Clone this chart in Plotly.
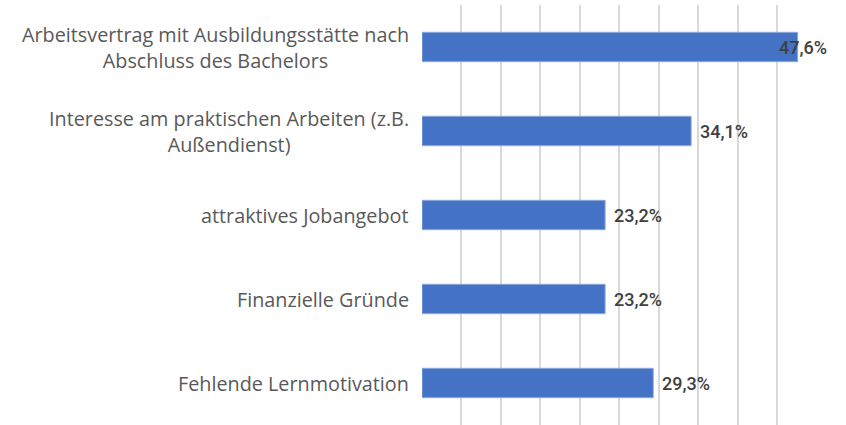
import plotly.graph_objects as go

categories = [
    "Arbeitsvertrag mit Ausbildungsstätte nach<br>Abschluss des Bachelors",
    "Interesse am praktischen Arbeiten (z.B.<br>Außendienst)",
    "attraktives Jobangebot",
    "Finanzielle Gründe",
    "Fehlende Lernmotivation",
]
values = [47.6, 34.1, 23.2, 23.2, 29.3]
labels = ["47,6%", "34,1%", "23,2%", "23,2%", "29,3%"]

x_max = 50

fig = go.Figure(
    go.Bar(
        x=values,
        y=categories,
        orientation="h",
        marker=dict(color="#4472C4", line=dict(color="#8EA9DB", width=1)),
        hoverinfo="skip",
    )
)

cat_font = dict(family="Open Sans", size=19.8, color="#595959", weight=500)
val_font = dict(family="Roboto", size=18, color="#404040", weight=500)

annotations = []
for cat, v, lab in zip(categories, values, labels):
    annotations.append(
        dict(
            xref="paper", x=0, yref="y", y=cat,
            text=cat, showarrow=False, xanchor="right", yanchor="middle",
            align="center", xshift=-11,
            font=cat_font,
        )
    )
    if v > x_max * 0.9:
        annotations.append(
            dict(
                x=v, y=cat, xref="x", yref="y", text=lab, showarrow=False,
                xanchor="center", yanchor="middle", xshift=5,
                font=val_font,
            )
        )
    else:
        annotations.append(
            dict(
                x=v, y=cat, xref="x", yref="y", text=lab, showarrow=False,
                xanchor="left", yanchor="middle", xshift=7,
                font=val_font,
            )
        )

fig.update_layout(
    width=846,
    height=425,
    margin=dict(l=422, r=29, t=5, b=0),
    paper_bgcolor="white",
    plot_bgcolor="white",
    bargap=0.65,
    showlegend=False,
    annotations=annotations,
    xaxis=dict(
        range=[0, x_max + 0.05],
        dtick=5,
        showgrid=True,
        gridcolor="#D9D9D9",
        gridwidth=1.5,
        showticklabels=False,
        zeroline=False,
        showline=False,
        fixedrange=True,
    ),
    yaxis=dict(
        categoryorder="array",
        categoryarray=categories,
        autorange="reversed",
        showticklabels=False,
        showgrid=False,
        zeroline=False,
        showline=False,
        fixedrange=True,
    ),
)

fig.write_html(
    "out.html",
    config={"displayModeBar": False},
    post_script="document.body.style.margin='0';document.body.style.overflow='hidden';",
)
